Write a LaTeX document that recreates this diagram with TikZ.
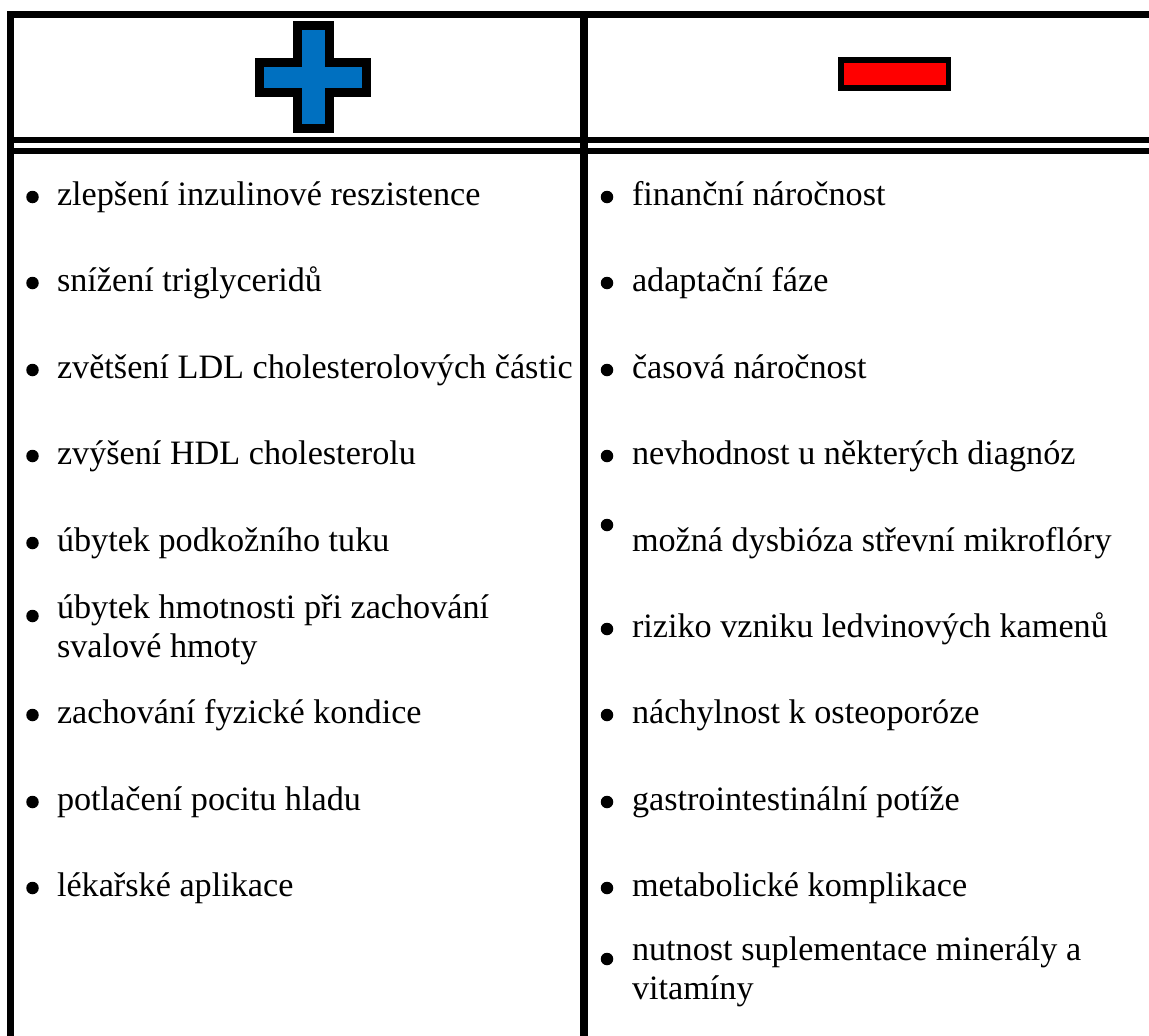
\documentclass[tikz,border=0pt]{standalone}
\usepackage{fontspec}
\setmainfont{Liberation Serif}
\definecolor{plusblue}{RGB}{0,112,192}
\definecolor{minusred}{RGB}{255,0,0}
\tikzset{
  itemtext/.style={anchor=base west, inner sep=0pt, outer sep=0pt, font=\fontsize{34.2}{39}\selectfont, text=black},
  dot/.style={circle, fill=black, inner sep=0pt, minimum size=12.5pt},
  heavyrule/.style={line width=#1, draw=black},
}
\begin{document}
\begin{tikzpicture}[x=1pt,y=-1pt]
\useasboundingbox (0,0) rectangle (1149,1036);
\fill[white] (0,0) rectangle (1149,1036);
% table rules
\draw[heavyrule=7.5pt] (7,14.3) -- (1149,14.3);
\draw[heavyrule=7pt] (10.5,11) -- (10.5,1036);
\draw[heavyrule=6pt] (7,140) -- (1149,140);
\draw[heavyrule=6pt] (7,151) -- (1149,151);
\draw[heavyrule=8pt] (584,11) -- (584,1036);
% plus sign
\filldraw[fill=plusblue, draw=black, line width=9pt, line join=miter]
  (297.5,25) -- (329,25) -- (329,62) -- (366,62) -- (366,92) -- (329,92)
  -- (329,128) -- (297.5,128) -- (297.5,92) -- (259,92) -- (259,62) -- (297.5,62) -- cycle;
% minus sign
\filldraw[fill=minusred, draw=black, line width=5.5pt, line join=miter]
  (841,60) rectangle (948.5,88);
% left column
\node[dot] (bl1) at (32.5,197) {};
\node[itemtext] (l1) at (57,205) {zlepšení inzulinové reszistence};
\node[dot] (bl2) at (32.5,283) {};
\node[itemtext] (l2) at (57,291) {snížení triglyceridů};
\node[dot] (bl3) at (32.5,370) {};
\node[itemtext] (l3) at (57,378) {zvětšení LDL cholesterolových částic};
\node[dot] (bl4) at (32.5,456) {};
\node[itemtext] (l4) at (57,464) {zvýšení HDL cholesterolu};
\node[dot] (bl5) at (32.5,543) {};
\node[itemtext] (l5) at (57,551) {úbytek podkožního tuku};
\node[dot] (bl6) at (32.5,616) {};
\node[itemtext] (l6a) at (57,618) {úbytek hmotnosti při zachování};
\node[itemtext] (l6b) at (57,657) {svalové hmoty};
\node[dot] (bl7) at (32.5,715) {};
\node[itemtext] (l7) at (57,723) {zachování fyzické kondice};
\node[dot] (bl8) at (32.5,802) {};
\node[itemtext] (l8) at (57,810) {potlačení pocitu hladu};
\node[dot] (bl9) at (32.5,888) {};
\node[itemtext] (l9) at (57,896) {lékařské aplikace};
% right column
\node[dot] (br1) at (607,197) {};
\node[itemtext] (r1) at (632,205) {finanční náročnost};
\node[dot] (br2) at (607,283) {};
\node[itemtext] (r2) at (632,291) {adaptační fáze};
\node[dot] (br3) at (607,370) {};
\node[itemtext] (r3) at (632,378) {časová náročnost};
\node[dot] (br4) at (607,456) {};
\node[itemtext] (r4) at (632,464) {nevhodnost u některých diagnóz};
\node[dot] (br5) at (607,525) {};
\node[itemtext] (r5) at (632,551) {možná dysbióza střevní mikroflóry};
\node[dot] (br6) at (607,629) {};
\node[itemtext] (r6) at (632,637) {riziko vzniku ledvinových kamenů};
\node[dot] (br7) at (607,715) {};
\node[itemtext] (r7) at (632,723) {náchylnost k osteoporóze};
\node[dot] (br8) at (607,802) {};
\node[itemtext] (r8) at (632,810) {gastrointestinální potíže};
\node[dot] (br9) at (607,888) {};
\node[itemtext] (r9) at (632,896) {metabolické komplikace};
\node[dot] (br10) at (607,959) {};
\node[itemtext] (r10a) at (632,960) {nutnost suplementace minerály a};
\node[itemtext] (r10b) at (632,999) {vitamíny};
\end{tikzpicture}
\end{document}
